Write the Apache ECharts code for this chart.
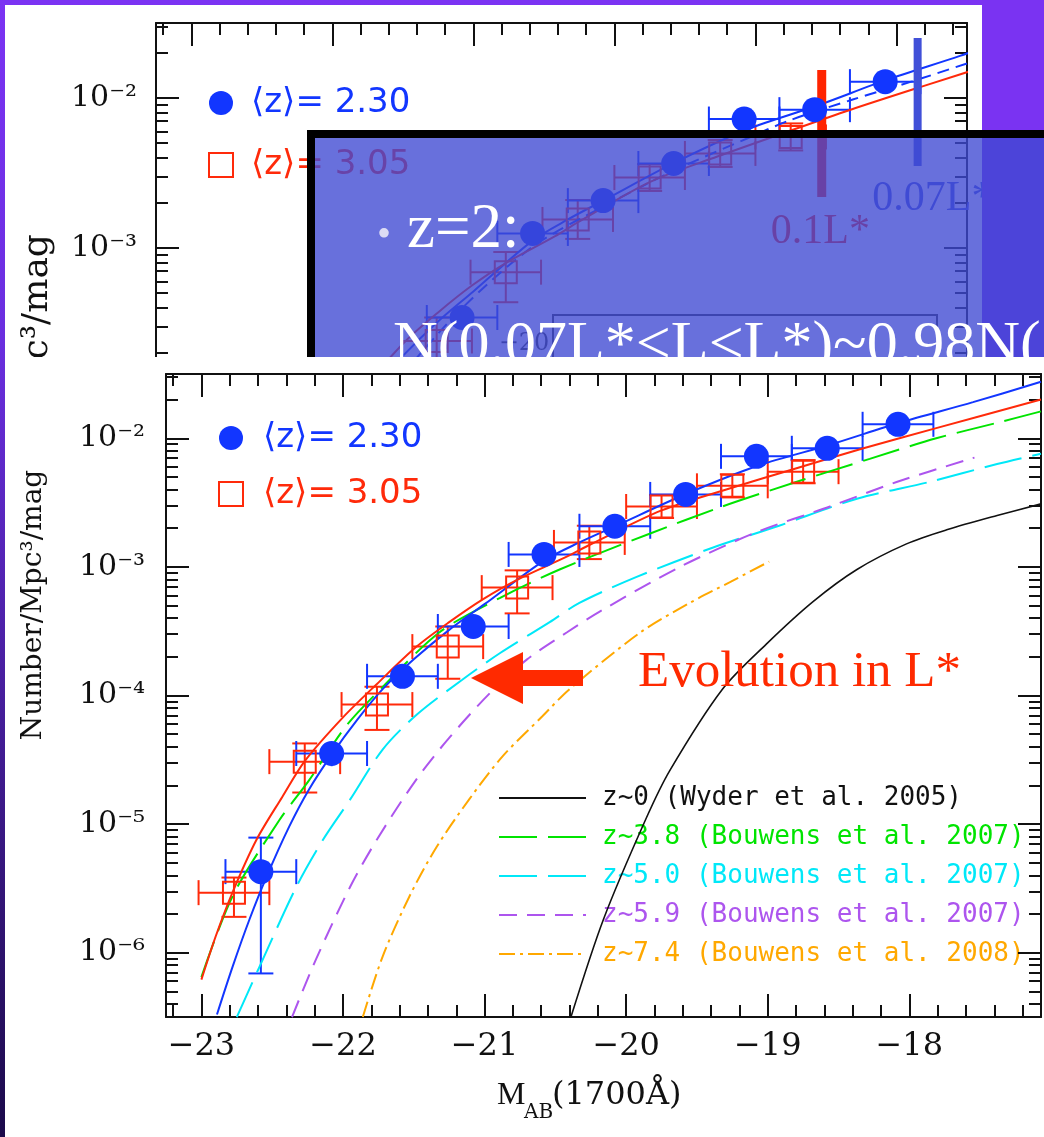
<!DOCTYPE html>
<html>
<head>
<meta charset="utf-8">
<title>UV luminosity function at z ~ 2-3</title>
<script src="https://cdn.jsdelivr.net/npm/echarts@6/dist/echarts.min.js"></script>
<style>
  html, body { margin: 0; padding: 0; background: #1c0a4c; }
  #chart { width: 1044px; height: 1137px; }
</style>
</head>
<body>
<div id="chart"></div>
<script>
// ---------- binned number densities (Number / Mpc^3 / mag) ----------
const binHalfWidth = 0.25; // half of the 0.5 mag bins

const magZ230   = [-22.58, -22.08, -21.58, -21.08, -20.58, -20.08, -19.58, -19.08, -18.58, -18.08];
const phiZ230   = [4.27e-6, 3.54e-5, 1.41e-4, 3.44e-4, 1.25e-3, 2.07e-3, 3.66e-3, 7.24e-3, 8.36e-3, 1.285e-2];
const phiZ230Lo = [6.9e-7, 2.82e-5, 1.22e-4, 3.0e-4, 1.08e-3, 1.82e-3, 3.22e-3, 6.4e-3, 7.4e-3, 1.14e-2];
const phiZ230Hi = [7.85e-6, 4.27e-5, 1.63e-4, 3.95e-4, 1.45e-3, 2.35e-3, 4.16e-3, 8.2e-3, 9.45e-3, 1.45e-2];

const magZ305   = [-22.77, -22.27, -21.76, -21.26, -20.77, -20.26, -19.75, -19.25, -18.75];
const phiZ305   = [2.93e-6, 3.06e-5, 8.5e-5, 2.40e-4, 6.9e-4, 1.55e-3, 2.95e-3, 4.27e-3, 5.5e-3];
const phiZ305Lo = [1.9e-6, 1.76e-5, 5.4e-5, 1.35e-4, 4.35e-4, 1.15e-3, 2.4e-3, 3.47e-3, 4.47e-3];
const phiZ305Hi = [3.84e-6, 4.24e-5, 1.17e-4, 3.44e-4, 9.4e-4, 2.09e-3, 3.63e-3, 5.25e-3, 6.77e-3];

// ---------- Schechter fits, sampled along each curve ----------
const fitZ230Mag = [-22.89, -22.78, -22.66, -22.54, -22.38, -22.24, -22.08, -21.90, -21.72, -21.50, -21.25, -21.00, -20.58, -20.33, -20.07, -19.57, -19.06, -18.56, -18.07, -17.55, -17.07];
const fitZ230Phi = [3.31e-7, 7.76e-7, 1.82e-6, 3.89e-6, 9.55e-6, 1.86e-5, 3.47e-5, 6.46e-5, 1.12e-4, 1.91e-4, 3.24e-4, 5.13e-4, 1.12e-3, 1.55e-3, 2.09e-3, 3.72e-3, 6.17e-3, 8.91e-3, 1.32e-2, 1.91e-2, 2.75e-2];

const fitZ230AltMag = [-21.60, -21.10, -20.58, -20.07, -19.57, -19.06, -18.76, -18.31, -17.89, -17.50];
const fitZ230AltPhi = [1.12e-4, 3.80e-4, 1.02e-3, 1.91e-3, 3.31e-3, 5.37e-3, 7.08e-3, 9.77e-3, 1.29e-2, 1.70e-2];

const fitZ305Mag = [-23.00, -22.90, -22.78, -22.61, -22.43, -22.27, -22.00, -21.76, -21.48, -21.25, -21.01, -20.77, -20.42, -20.26, -19.75, -19.27, -18.82, -18.33, -17.81, -17.07];
const fitZ305Phi = [6.17e-7, 1.33e-6, 2.95e-6, 7.59e-6, 1.62e-5, 3.09e-5, 6.76e-5, 1.23e-4, 2.40e-4, 3.72e-4, 5.62e-4, 7.94e-4, 1.20e-3, 1.48e-3, 2.75e-3, 4.07e-3, 5.75e-3, 8.32e-3, 1.20e-2, 2.00e-2];

// ---------- literature luminosity functions ----------
const wyderMag = [-20.39, -20.16, -19.86, -19.69, -19.32, -19.01, -18.68, -18.37, -18.02, -17.73, -17.38, -17.07];
const wyderPhi = [3.16e-7, 1.82e-6, 1.10e-5, 2.63e-5, 1.12e-4, 2.51e-4, 5.37e-4, 9.55e-4, 1.51e-3, 1.95e-3, 2.51e-3, 3.09e-3];

const bouwens38Mag = [-23.00, -22.78, -22.45, -22.24, -21.98, -21.76, -21.32, -20.89, -20.47, -19.83, -19.32, -18.80, -18.28, -17.81, -17.38, -17.07];
const bouwens38Phi = [6.46e-7, 2.75e-6, 1.07e-5, 2.19e-5, 5.75e-5, 1.05e-4, 3.09e-4, 5.75e-4, 9.55e-4, 1.82e-3, 2.95e-3, 4.57e-3, 6.92e-3, 1.0e-2, 1.32e-2, 1.62e-2];

const bouwens50Mag = [-22.75, -22.59, -22.33, -22.14, -21.95, -21.72, -21.48, -21.16, -20.89, -20.54, -20.33, -19.93, -19.39, -18.92, -18.37, -17.86, -17.38, -17.07];
const bouwens50Phi = [3.16e-7, 7.76e-7, 3.24e-6, 7.59e-6, 1.55e-5, 3.80e-5, 7.08e-5, 1.32e-4, 2.14e-4, 3.72e-4, 5.25e-4, 8.32e-4, 1.41e-3, 2.09e-3, 3.39e-3, 4.57e-3, 6.31e-3, 7.59e-3];

const bouwens59Mag = [-22.36, -22.19, -21.95, -21.76, -21.48, -21.25, -20.96, -20.70, -20.42, -20.19, -19.62, -19.08, -18.56, -18.09, -17.54];
const bouwens59Phi = [3.16e-7, 8.91e-7, 3.24e-6, 7.59e-6, 2.24e-5, 4.68e-5, 1.05e-4, 1.91e-4, 3.09e-4, 4.47e-4, 1.0e-3, 1.86e-3, 2.95e-3, 4.57e-3, 7.08e-3];

const bouwens74Mag = [-21.86, -21.72, -21.53, -21.34, -21.11, -20.87, -20.59, -20.40, -19.90, -19.55, -19.27, -18.99];
const bouwens74Phi = [3.16e-7, 9.33e-7, 2.75e-6, 6.61e-6, 1.55e-5, 3.39e-5, 6.92e-5, 1.12e-4, 3.09e-4, 5.25e-4, 7.59e-4, 1.10e-3];

// ---------- luminosity limits marked on the upper panel ----------
const limitMag    = [-18.53, -17.85];
const limitPhiTop = [1.538e-2, 2.51e-2];
const limitPhiBot = [2.19e-3, 3.52e-3];
const limitText   = ['0.1L*', '0.07L*'];
const limitTextMag = [-18.54, -17.745];
const limitTextPhi = [1.28e-3, 2.12e-3];

// ---------- axis ticks ----------
const magMajor = [-23, -22, -21, -20, -19, -18];
const phiMajorBottom = [1e-6, 1e-5, 1e-4, 1e-3, 1e-2];
const phiMajorTop = [1e-4, 1e-3, 1e-2];
const phiLabelsTop = [1e-3, 1e-2];

const magMinor = [];
for (let k = -116; k <= -86; k++) if (k % 5 !== 0) magMinor.push(k / 5);
function logMinor(lo, hi) {
  const out = [];
  for (let n = -8; n <= 0; n++) for (let k = 2; k <= 9; k++) {
    const v = k * Math.pow(10, n);
    if (v > lo && v < hi) out.push(v);
  }
  return out;
}

// the density axis is logarithmic: values are placed by their base-10 logarithm
const lg = Math.log10;

const BLUE = '#1236ff', RED = '#ff2a0a', GREEN = '#00e400', CYAN = '#00e8f8',
      PURPLE = '#ad55ee', ORANGE = '#ffa800', INK = '#111111';

const NAME_Z230 = '⟨z⟩= 2.30', NAME_Z305 = '⟨z⟩= 3.05';
const NAME_W = 'z~0 (Wyder et al. 2005)';
const NAME_B38 = 'z~3.8 (Bouwens et al. 2007)';
const NAME_B50 = 'z~5.0 (Bouwens et al. 2007)';
const NAME_B59 = 'z~5.9 (Bouwens et al. 2007)';
const NAME_B74 = 'z~7.4 (Bouwens et al. 2008)';

const SUP = {'-': '⁻', '0': '⁰', '1': '¹', '2': '²', '3': '³', '4': '⁴', '5': '⁵', '6': '⁶', '7': '⁷', '8': '⁸', '9': '⁹'};
function powerLabel(v) {
  const e = Math.round(v);
  return '10' + String(e).split('').map(c => SUP[c]).join('');
}
function magLabel(v) { return (v < 0 ? '−' : '') + Math.abs(v); }

// four axes per direction: main side (major, minor), opposite side (major, minor)
function frameAxes(dim, gridIndex, min, max, major, minor, z, label) {
  const sides = dim === 'x' ? ['bottom', 'top'] : ['left', 'right'];
  const axes = [];
  sides.forEach((side, s) => {
    [major, minor].forEach((ticks, m) => {
      axes.push({
        type: 'value', gridIndex, position: side, min, max, z,
        axisLine: { show: m === 0, onZero: false, lineStyle: { color: INK, width: 2 } },
        axisTick: { show: true, inside: true, customValues: ticks, length: m === 0 ? 23 : 12,
                    lineStyle: { color: INK, width: 2 } },
        axisLabel: (s === 0 && m === 0 && label) ? Object.assign({ show: true }, label) : { show: false },
        splitLine: { show: false },
        axisPointer: { show: false }
      });
    });
  });
  return axes;
}

const TOP = { xAxisIndex: 0, yAxisIndex: 0 };
const BOT = { xAxisIndex: 4, yAxisIndex: 4 };

function curve(name, mags, phis, color, width, dash, ax, z) {
  return {
    type: 'line', name, ...ax, z, silent: true,
    data: mags.map((m, i) => [m, lg(phis[i])]),
    symbol: 'none', showSymbol: false, smooth: 0.3, clip: true,
    lineStyle: { color, width, type: dash }, itemStyle: { color }
  };
}

function errorBars(mags, phis, lo, hi, color, hideWithin, ax, z) {
  return {
    type: 'custom', ...ax, z, silent: true,
    data: mags.map((m, i) => [m, lg(phis[i]), m - binHalfWidth, m + binHalfWidth, lg(lo[i]), lg(hi[i])]),
    encode: { x: [0, 2, 3], y: [1, 4, 5] },
    renderItem(params, api) {
      const c = api.coord([api.value(0), api.value(1)]);
      const l = api.coord([api.value(2), api.value(1)]);
      const r = api.coord([api.value(3), api.value(1)]);
      const yl = api.coord([api.value(0), api.value(4)])[1];
      const yh = api.coord([api.value(0), api.value(5)])[1];
      const cap = 12.5;
      const st = { stroke: color, lineWidth: 2 };
      const kids = [
        { type: 'line', shape: { x1: l[0], y1: c[1], x2: r[0], y2: c[1] }, style: st },
        { type: 'line', shape: { x1: l[0], y1: c[1] - cap, x2: l[0], y2: c[1] + cap }, style: st },
        { type: 'line', shape: { x1: r[0], y1: c[1] - cap, x2: r[0], y2: c[1] + cap }, style: st },
        { type: 'line', shape: { x1: c[0], y1: yl, x2: c[0], y2: yh }, style: st }
      ];
      if (Math.abs(yl - yh) / 2 > hideWithin) {
        kids.push({ type: 'line', shape: { x1: c[0] - cap, y1: yl, x2: c[0] + cap, y2: yl }, style: st });
        kids.push({ type: 'line', shape: { x1: c[0] - cap, y1: yh, x2: c[0] + cap, y2: yh }, style: st });
      }
      return { type: 'group', children: kids };
    }
  };
}

function samples(name, mags, phis, kind, ax, z) {
  const circle = kind === 'circle';
  return {
    type: 'scatter', name, ...ax, z, silent: true,
    data: mags.map((m, i) => [m, lg(phis[i])]),
    symbol: circle ? 'circle' : 'rect',
    symbolSize: circle ? 25 : 22,
    itemStyle: circle ? { color: BLUE, opacity: 1 }
                      : { color: 'rgba(255,255,255,0)', borderColor: RED, borderWidth: 2, opacity: 1 }
  };
}

const series = [
  // upper panel
  curve('fit 2.30', fitZ230Mag, fitZ230Phi, BLUE, 2, 'solid', TOP, 2),
  curve('fit 2.30 alt', fitZ230AltMag, fitZ230AltPhi, BLUE, 2, [12, 7], TOP, 2),
  curve('fit 3.05', fitZ305Mag, fitZ305Phi, RED, 2, 'solid', TOP, 2),
  curve('0.1L* limit', [limitMag[0], limitMag[0]], [limitPhiTop[0], limitPhiBot[0]], '#ff2400', 9, 'solid', TOP, 2),
  curve('0.07L* limit', [limitMag[1], limitMag[1]], [limitPhiTop[1], limitPhiBot[1]], '#4150d8', 8, 'solid', TOP, 2),
  {
    type: 'custom', ...TOP, z: 2, silent: true,
    data: limitTextMag.map((m, i) => [m, lg(limitTextPhi[i])]),
    encode: { x: 0, y: 1 },
    renderItem(params, api) {
      const c = api.coord([api.value(0), api.value(1)]);
      return { type: 'text', x: c[0], y: c[1], style: {
        text: limitText[params.dataIndex], fill: params.dataIndex === 0 ? '#ff2400' : '#4150d8',
        font: '42px "Liberation Serif"', align: 'center', verticalAlign: 'middle' } };
    }
  },
  errorBars(magZ305, phiZ305, phiZ305Lo, phiZ305Hi, RED, 0, TOP, 2),
  errorBars(magZ230, phiZ230, phiZ230Lo, phiZ230Hi, BLUE, 12.5, TOP, 2),
  samples(NAME_Z305, magZ305, phiZ305, 'rect', TOP, 2),
  samples(NAME_Z230, magZ230, phiZ230, 'circle', TOP, 2),

  // lower panel
  curve(NAME_W, wyderMag, wyderPhi, INK, 1.6, 'solid', BOT, 10),
  curve(NAME_B38, bouwens38Mag, bouwens38Phi, GREEN, 2, [38, 11], BOT, 10),
  curve(NAME_B50, bouwens50Mag, bouwens50Phi, CYAN, 2, [38, 11], BOT, 10),
  curve(NAME_B59, bouwens59Mag, bouwens59Phi, PURPLE, 2, [18, 10], BOT, 10),
  curve(NAME_B74, bouwens74Mag, bouwens74Phi, ORANGE, 2, [16, 5, 3, 5], BOT, 10),
  curve('fit 2.30 lower', fitZ230Mag, fitZ230Phi, BLUE, 2, 'solid', BOT, 10),
  curve('fit 3.05 lower', fitZ305Mag, fitZ305Phi, RED, 2, 'solid', BOT, 10),
  errorBars(magZ305, phiZ305, phiZ305Lo, phiZ305Hi, RED, 0, BOT, 10),
  errorBars(magZ230, phiZ230, phiZ230Lo, phiZ230Hi, BLUE, 12.5, BOT, 10),
  samples(NAME_Z305, magZ305, phiZ305, 'rect', BOT, 10),
  samples(NAME_Z230, magZ230, phiZ230, 'circle', BOT, 10)
];

const tickFont = { fontFamily: 'DejaVu Serif', color: INK };
const topRange = [-4, -1.5], bottomRange = [-6.5, -1.5];

const option = {
  animation: false,
  grid: [
    { left: 156, top: 23, width: 811, height: 375 },
    { left: 166, top: 374, width: 875, height: 643 }
  ],
  xAxis: [
    ...frameAxes('x', 0, -23.25, -17.5, magMajor, magMinor.filter(v => v < -17.5), 1, null),
    ...frameAxes('x', 1, -23.25, -17.07, magMajor, magMinor, 10,
      Object.assign({ customValues: magMajor, formatter: magLabel, fontSize: 32, margin: 14 }, tickFont))
  ],
  yAxis: [
    ...frameAxes('y', 0, topRange[0], topRange[1], phiMajorTop.map(lg),
      logMinor(Math.pow(10, topRange[0]), Math.pow(10, topRange[1])).map(lg), 1,
      Object.assign({ customValues: phiLabelsTop.map(lg), formatter: powerLabel, fontSize: 30, margin: 19 }, tickFont)),
    ...frameAxes('y', 1, bottomRange[0], bottomRange[1], phiMajorBottom.map(lg),
      logMinor(Math.pow(10, bottomRange[0]), Math.pow(10, bottomRange[1])).map(lg), 10,
      Object.assign({ customValues: phiMajorBottom.map(lg), formatter: powerLabel, fontSize: 30, margin: 21 }, tickFont))
  ],
  legend: [
    {
      z: 10, left: 498, top: 785, padding: 0, orient: 'vertical', selectedMode: false,
      itemWidth: 87, itemHeight: 14, itemGap: 13,
      itemStyle: { opacity: 0 },
      textStyle: { fontFamily: 'DejaVu Sans Mono', fontSize: 26, lineHeight: 26, padding: [0, 0, 0, 11] },
      data: [
        { name: NAME_W, textStyle: { color: INK } },
        { name: NAME_B38, textStyle: { color: GREEN } },
        { name: NAME_B50, textStyle: { color: CYAN } },
        { name: NAME_B59, textStyle: { color: PURPLE } },
        { name: NAME_B74, textStyle: { color: ORANGE } }
      ]
    },
    {
      z: 10, left: 218, top: 421, padding: 0, orient: 'vertical', selectedMode: false,
      itemWidth: 24, itemHeight: 24, itemGap: 22,
      textStyle: { fontFamily: 'DejaVu Sans', fontSize: 34, lineHeight: 34, padding: [0, 0, 0, 15] },
      data: [
        { name: NAME_Z230, icon: 'circle', itemStyle: { color: BLUE, opacity: 1 }, textStyle: { color: BLUE } },
        { name: NAME_Z305, icon: 'rect', itemStyle: { color: 'rgba(255,255,255,0)', borderColor: RED, borderWidth: 2, opacity: 1 }, textStyle: { color: RED } }
      ]
    },
    {
      z: 2, left: 208, top: 86, padding: 0, orient: 'vertical', selectedMode: false,
      itemWidth: 24, itemHeight: 24, itemGap: 28,
      textStyle: { fontFamily: 'DejaVu Sans', fontSize: 34, lineHeight: 34, padding: [0, 0, 0, 13] },
      data: [
        { name: NAME_Z230, icon: 'circle', itemStyle: { color: BLUE, opacity: 1 }, textStyle: { color: BLUE } },
        { name: NAME_Z305, icon: 'rect', itemStyle: { color: 'rgba(255,255,255,0)', borderColor: RED, borderWidth: 2, opacity: 1 }, textStyle: { color: RED } }
      ]
    }
  ],
  graphic: [
    // slide background and the upper figure's paper
    { type: 'rect', z: 0, silent: true, shape: { x: 0, y: 0, width: 1044, height: 1137 },
      style: { fill: { type: 'linear', x: 0, y: 0, x2: 0, y2: 1, colorStops: [
        { offset: 0, color: '#7b33f3' }, { offset: 0.3, color: '#6a2edf' }, { offset: 1, color: '#1b0a4a' }] } } },
    { type: 'rect', z: 0, silent: true, shape: { x: 5, y: 5, width: 977, height: 352 }, style: { fill: '#ffffff' } },
    { type: 'text', z: 1, silent: true, x: 38, y: 408, rotation: Math.PI / 2,
      style: { text: 'Number/Mpc³/mag', font: '36px "DejaVu Serif"', fill: INK, align: 'center', verticalAlign: 'middle' } },
    // inset frame inside the upper figure
    { type: 'polyline', z: 1, silent: true, shape: { points: [[553, 360], [553, 315], [937, 315], [937, 360]] },
      style: { stroke: '#333', lineWidth: 2, fill: null } },
    { type: 'text', z: 1, silent: true, x: 524, y: 344,
      style: { text: '−20', font: '24px "DejaVu Serif"', fill: '#333', align: 'center', verticalAlign: 'middle' } },
    // slide edge to the right of the upper figure
    { type: 'rect', z: 5, silent: true, shape: { x: 982, y: 0, width: 62, height: 357 }, style: { fill: '#7a33f2' } },
    // text box
    { type: 'rect', z: 6, silent: true, shape: { x: 311, y: 134, width: 800, height: 300 },
      style: { fill: 'rgba(63,74,211,0.79)', stroke: '#000', lineWidth: 8 } },
    { type: 'text', z: 7, silent: true, x: 384, y: 236,
      style: { text: '•', font: '40px "Liberation Serif"', fill: '#dcdcf4', align: 'center', verticalAlign: 'middle' } },
    { type: 'text', z: 7, silent: true, x: 407, y: 230,
      style: { text: 'z=2:', font: '63px "Liberation Serif"', fill: '#ffffff', align: 'left', verticalAlign: 'middle' } },
    { type: 'text', z: 7, silent: true, x: 393, y: 347,
      style: { text: 'N(0.07L*<L<L*)~0.98N(', font: '62px "Liberation Serif"', fill: '#ffffff', align: 'left', verticalAlign: 'middle' } },
    // lower figure's paper
    { type: 'rect', z: 8, silent: true, shape: { x: 5, y: 357, width: 1039, height: 780 }, style: { fill: '#ffffff' } },
    { type: 'text', z: 10, silent: true, x: 34, y: 605, rotation: Math.PI / 2,
      style: { text: 'Number/Mpc³/mag', font: '28px "DejaVu Serif"', fill: INK, align: 'center', verticalAlign: 'middle' } },
    { type: 'text', z: 10, silent: true, x: 497, y: 1096,
      style: { text: 'M', font: '32px "Liberation Serif"', fill: INK, align: 'left', verticalAlign: 'middle' } },
    { type: 'text', z: 10, silent: true, x: 524, y: 1113,
      style: { text: 'AB', font: '20px "DejaVu Serif"', fill: INK, align: 'left', verticalAlign: 'middle' } },
    { type: 'text', z: 10, silent: true, x: 552, y: 1096,
      style: { text: '(1700Å)', font: '32px "DejaVu Serif"', fill: INK, align: 'left', verticalAlign: 'middle' } },
    // annotation
    { type: 'polygon', z: 20, silent: true,
      shape: { points: [[471, 678], [523, 652], [523, 670], [583, 670], [583, 686], [523, 686], [523, 704]] },
      style: { fill: '#ff2a00' } },
    { type: 'text', z: 20, silent: true, x: 638, y: 673,
      style: { text: 'Evolution in L*', font: '51px "Liberation Serif"', fill: '#ff2a00', align: 'left', verticalAlign: 'middle' } }
  ],
  series
};

const chart = echarts.init(document.getElementById('chart'), null, { renderer: 'canvas' });
chart.setOption(option);
</script>
</body>
</html>
